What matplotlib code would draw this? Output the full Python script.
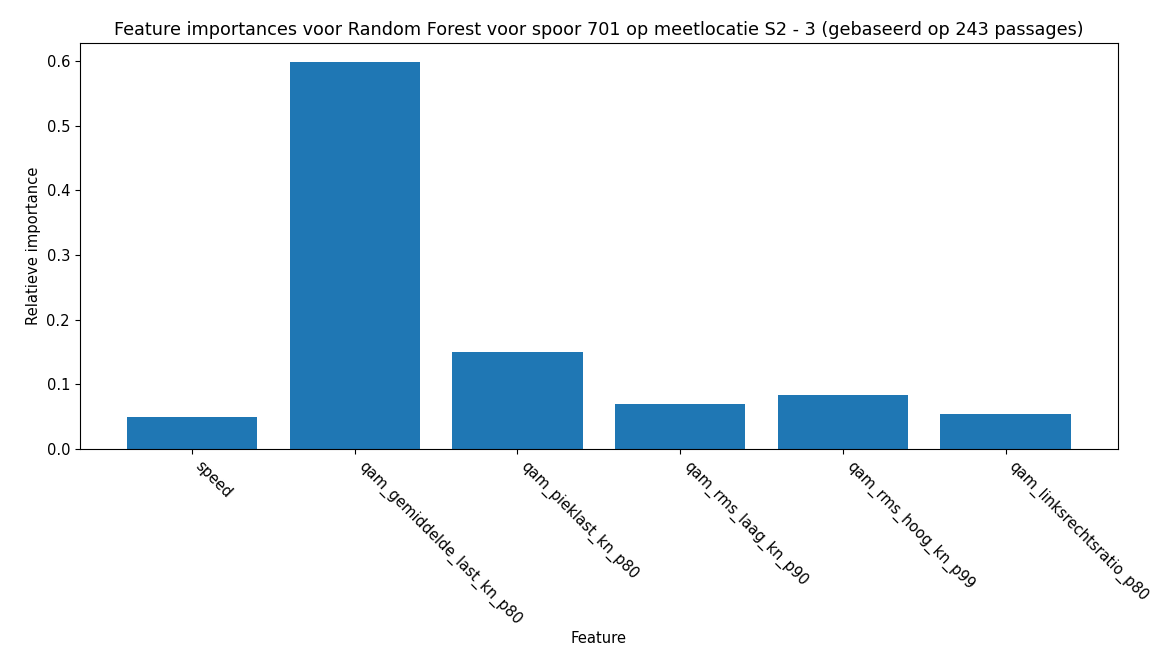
import matplotlib
matplotlib.use("Agg")
import matplotlib.pyplot as plt

features = ["speed", "qam_gemiddelde_last_kn_p80", "qam_pieklast_kn_p80",
            "qam_rms_laag_kn_p90", "qam_rms_hoog_kn_p99", "qam_linksrechtsratio_p80"]
importances = [0.049, 0.598, 0.150, 0.070, 0.083, 0.054]

fig = plt.figure(figsize=(11.56, 6.57), dpi=100)
ax = fig.add_axes([0.069, 0.3166, 0.898, 0.618])
ax.bar(range(len(features)), importances, color="#1f77b4", width=0.8)
ax.set_xticks(range(len(features)))
ax.set_xticklabels(features, rotation=-45, ha="left", fontsize=10.6)
ax.tick_params(axis="y", labelsize=10.6)
ax.set_ylabel("Relatieve importance", fontsize=10.6)
ax.set_xlabel("Feature", fontsize=10.6, labelpad=2)
ax.set_title("Feature importances voor Random Forest voor spoor 701 op meetlocatie S2 - 3 (gebaseerd op 243 passages)", fontsize=12.7)
fig.savefig("out.png", dpi=100)
